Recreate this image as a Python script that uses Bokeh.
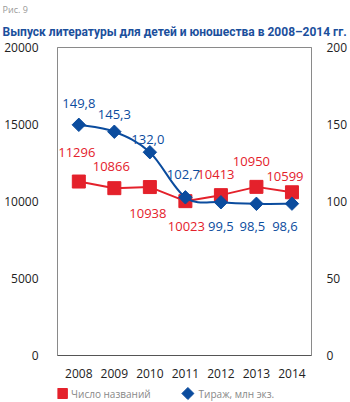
import math
from bokeh.plotting import figure
from bokeh.layouts import column
from bokeh.models import ColumnDataSource, Range1d, LinearAxis, Title, FixedTicker
from bokeh.core.properties import value
from bokeh.embed import file_html
from bokeh.resources import INLINE

years = ["2008", "2009", "2010", "2011", "2012", "2013", "2014"]
titles = [11296, 10866, 10938, 10023, 10413, 10950, 10599]
circulation = [149.8, 145.3, 132.0, 102.7, 99.5, 98.5, 98.6]
left_ticks = [0, 5000, 10000, 15000, 20000]
right_ticks = [0, 50, 100, 150, 200]
series_names = ["Число названий", "Тираж, млн экз."]

RED = "#e4212b"
BLUE = "#0b4c9e"
FONT = "Open Sans"

# label placement (screen px, positive down)
red_dx = [-2, -3, -2, 1, -5, -5, -7]
red_dy = [-29, -22, 26, 25, -21, -25, -16]
blue_dx = [0, 0, -2, -2, 0, -4, -7]
blue_dy = [-21, -17, -13, -23, 24, 23, 23]

xs = list(range(len(years)))

p = figure(width=350, height=380, output_backend="svg", toolbar_location=None,
           x_range=Range1d(-0.6, 6.55), y_range=Range1d(0, 20000),
           min_border_left=57, min_border_right=32, min_border_top=47, min_border_bottom=23)
p.extra_y_ranges = {"right": Range1d(0, 200)}
p.background_fill_color = "white"
p.border_fill_color = "white"
p.outline_line_color = "#8a8a8a"
p.outline_line_width = 1
p.grid.visible = False

# titles
p.title.text = "Рис. 9"
p.title.text_font = FONT
p.title.text_font_size = "9px"
p.title.text_font_style = "normal"
p.title.text_color = "#999999"
p.title.align = "left"
p.title.vertical_align = "top"
p.title.offset = -55
p.title.standoff = 0
p.add_layout(Title(text="Выпуск литературы для детей и юношества в 2008–2014 гг.",
                   text_font="Roboto", text_font_size="12px",
                   text_font_style="bold", text_color="#1b4f9c",
                   align="left", vertical_align="top", offset=-55, standoff=14), "above")

# axes
p.xaxis.ticker = FixedTicker(ticks=xs)
p.xaxis.major_label_overrides = {i: y for i, y in enumerate(years)}
p.yaxis.ticker = FixedTicker(ticks=left_ticks)
for ax in [p.xaxis[0], p.yaxis[0]]:
    ax.axis_line_color = "#8a8a8a"
    ax.major_tick_line_color = None
    ax.minor_tick_line_color = None
    ax.major_label_text_font = FONT
    ax.major_label_text_font_size = "12px"
    ax.major_label_text_color = "#222222"
p.xaxis.major_label_standoff = 7
p.yaxis.major_label_standoff = 13
p.xaxis.axis_line_color = "#555555"

rax = LinearAxis(y_range_name="right", ticker=FixedTicker(ticks=right_ticks))
rax.axis_line_color = "#8a8a8a"
rax.major_tick_line_color = None
rax.minor_tick_line_color = None
rax.major_label_text_font = FONT
rax.major_label_text_font_size = "12px"
rax.major_label_text_color = "#222222"
rax.major_label_standoff = 9
p.add_layout(rax, "right")

# blue smoothed line (Catmull-Rom through data points)
pts = [(x, v) for x, v in zip(xs, circulation)]
x0s, y0s, x1s, y1s, cx0, cy0, cx1, cy1 = [], [], [], [], [], [], [], []
n = len(pts)
for i in range(n - 1):
    P0 = pts[max(i - 1, 0)]
    P1 = pts[i]
    P2 = pts[i + 1]
    P3 = pts[min(i + 2, n - 1)]
    x0s.append(P1[0]); y0s.append(P1[1])
    x1s.append(P2[0]); y1s.append(P2[1])
    cx0.append(P1[0] + (P2[0] - P0[0]) / 6); cy0.append(P1[1] + (P2[1] - P0[1]) / 6)
    cx1.append(P2[0] - (P3[0] - P1[0]) / 6); cy1.append(P2[1] - (P3[1] - P1[1]) / 6)

# red line
p.line(xs, titles, line_color=RED, line_width=2)
p.scatter(xs, titles, marker="square", size=13, fill_color=RED, line_color=RED)

p.bezier(x0=x0s, y0=y0s, x1=x1s, y1=y1s, cx0=cx0, cy0=cy0, cx1=cx1, cy1=cy1,
         line_color=BLUE, line_width=2, y_range_name="right")
p.scatter(xs, circulation, marker="square", angle=math.pi / 4, size=9.5,
          fill_color=BLUE, line_color=BLUE, y_range_name="right")

# value labels
red_src = ColumnDataSource(dict(x=xs, y=titles, t=[str(v) for v in titles],
                                dx=red_dx, dy=red_dy))
p.text(x="x", y="y", text="t", x_offset="dx", y_offset="dy", source=red_src,
       text_font=value(FONT), text_font_size="13px", text_color=RED,
       text_align="center", text_baseline="middle")
blue_src = ColumnDataSource(dict(x=xs, y=circulation,
                                 t=[f"{v:.1f}".replace(".", ",") for v in circulation],
                                 dx=blue_dx, dy=blue_dy))
p.text(x="x", y="y", text="t", x_offset="dx", y_offset="dy", source=blue_src,
       y_range_name="right",
       text_font=value(FONT), text_font_size="13px", text_color=BLUE,
       text_align="center", text_baseline="middle")

# legend strip (its frame is aligned with the main frame; x in canvas px)
lg = figure(width=350, height=22, output_backend="svg", toolbar_location=None,
            x_range=Range1d(57, 318), y_range=Range1d(0, 22),
            min_border_left=57, min_border_right=32,
            min_border_top=0, min_border_bottom=0)
lg.axis.visible = False
lg.grid.visible = False
lg.outline_line_color = None
lg.border_fill_color = "white"
lg.scatter([62], [9], marker="square", size=10, fill_color=RED, line_color=RED)
lg.scatter([191], [9], marker="square", angle=math.pi / 4, size=8.5,
           fill_color=BLUE, line_color=BLUE)
lg.text(x=[71, 202], y=[9, 9], text=series_names, text_font=value(FONT),
        text_font_size="10px", text_color="#888888", text_baseline="middle")

open("out.html", "w").write(file_html(column(p, lg, spacing=0), INLINE))
